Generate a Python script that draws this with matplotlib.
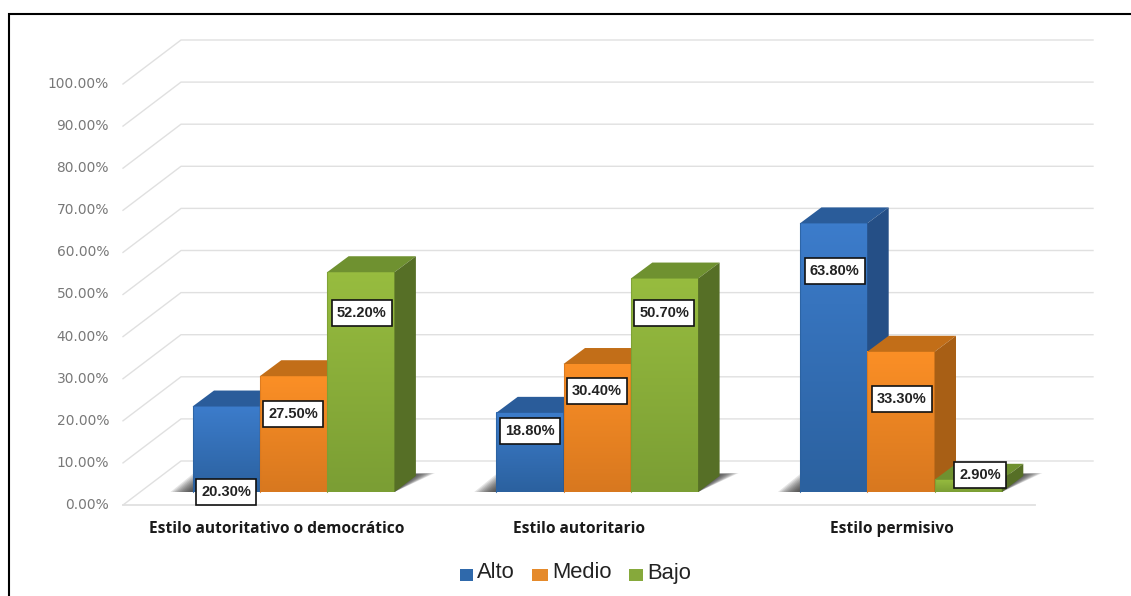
import numpy as np
import matplotlib
matplotlib.use("Agg")
import matplotlib.pyplot as plt
from matplotlib.patches import Polygon, Rectangle

#DATA
categories = ["Estilo autoritativo o democrático", "Estilo autoritario", "Estilo permisivo"]
series_names = ["Alto", "Medio", "Bajo"]
alto = [20.3, 18.8, 63.8]
medio = [27.5, 30.4, 33.3]
bajo = [52.2, 50.7, 2.9]
y_ticks = [0, 10, 20, 30, 40, 50, 60, 70, 80, 90, 100]

#LAYOUT (pixels of the 1131x596 picture)
W, H = 1131, 596
PX_PER_PCT = 4.21
Y0_PX = 505        # front floor line
X0_PX = 192.5      # left edge of the first bar
BAR_W = 67.3
GROUP_STEP = 303.7
DX, DY = 21.5, 16  # bar depth
BACK_DX, BACK_DY = 58, 44  # wall depth
BASE_LIFT = 13     # bars stand behind the front floor line

# label centres: pixel offset from the bar centre, height in percent
label_dx = [[0, 0, 1], [0, 0, 0], [1, 1, 12]]
label_pct = [[3.2, 21.7, 45.6], [17.6, 27.1, 45.6], [55.7, 25.2, 7.2]]
cat_dx = [-17, -18, -9]

#legend squares and text
leg_x = [460, 532, 629]
leg_w = [13, 16, 14]

#COLOURS (top of front, bottom of front, cap, side)
palette = [("#3c7ccb", "#2b619f", "#2a5c9a", "#254f86"),
           ("#fb8f26", "#d8781f", "#c26e18", "#a85f15"),
           ("#97bc3f", "#7b9e34", "#6f9130", "#566f26")]
leg_col = ["#2f69ab", "#e58a2b", "#86a93b"]


def py(v):
    """pixel length to value units"""
    return v / PX_PER_PCT


fig = plt.figure(figsize=(W / 100, H / 100), dpi=100, facecolor="white")
ax = fig.add_axes([0, 0, 1, 1])
ax.set_xlim(0, W)
ax.set_ylim((Y0_PX - H) / PX_PER_PCT, Y0_PX / PX_PER_PCT)
ax.axis("off")

#frame, only left and top are in the picture
frame_top = py(Y0_PX - 13.5)
ax.plot([8.5, 8.5, W + 5], [py(Y0_PX - H - 5), frame_top, frame_top],
        color="black", lw=1.5, solid_joinstyle="miter", zorder=6)

#walls grid
grid_col = "#e0e0e0"
for t in y_ticks:
    ax.plot([123, 123 + BACK_DX, 1093], [t, t + py(BACK_DY), t + py(BACK_DY)], color=grid_col, lw=1.0, zorder=1)
    ax.text(109, t, "%.2f%%" % t, ha="right", va="center", fontsize=9.9, color="#787878", family="DejaVu Sans")
ax.plot([123, 1035], [0, 0], color=grid_col, lw=1.3, zorder=1)

series = [alto, medio, bajo]
grad = np.linspace(0, 1, 64).reshape(-1, 1)
base = py(BASE_LIFT)

for g in range(len(categories)):
    left = X0_PX + g * GROUP_STEP
    right = left + 3 * BAR_W

    #soft shadow on the floor
    for k in range(14):
        s = k * 1.9
        back = base + py(DY + 3 - k * 0.15)
        ax.add_patch(Polygon([(left - 22 + s, base), (right, base), (right + DX + 19 - s, back),
                              (left + DX - 20 + s, back)],
                             closed=True, fc="#282828", ec="none", alpha=0.12, zorder=2))

    for i, vals in enumerate(series):
        v = vals[g]
        x = left + i * BAR_W
        top_c, bot_c, cap_c, side_c = palette[i]
        z = 3 + i * 0.1 + (0.5 if g == 2 and i == 2 else 0)
        top = base + v

        cmap = matplotlib.colors.LinearSegmentedColormap.from_list("f", [top_c, bot_c])
        ax.imshow(grad, extent=(x, x + BAR_W, base, top), aspect="auto", cmap=cmap, origin="upper",
                  zorder=z, interpolation="bilinear")
        ax.add_patch(Polygon([(x, top), (x + BAR_W, top), (x + BAR_W + DX, top + py(DY)), (x + DX, top + py(DY))],
                             closed=True, fc=cap_c, ec="none", zorder=z))
        ax.add_patch(Polygon([(x + BAR_W, base), (x + BAR_W + DX, base + py(DY)), (x + BAR_W + DX, top + py(DY)),
                              (x + BAR_W, top)], closed=True, fc=side_c, ec="none", zorder=z))
        #thin darker line between neighbouring bars
        ax.plot([x, x], [base, top], color=bot_c, lw=0.8, alpha=0.8, zorder=z + 0.01)

#value labels on top of all bars
for g in range(len(categories)):
    left = X0_PX + g * GROUP_STEP
    for i, vals in enumerate(series):
        cx = left + (i + 0.5) * BAR_W + label_dx[g][i]
        txt = "%.2f%%" % vals[g]
        box_w = 60 if len(txt) == 6 else 52
        ax.add_patch(Rectangle((cx - box_w / 2, label_pct[g][i] - py(13)), box_w, py(26),
                               fc="white", ec="#111111", lw=1.2, zorder=5))
        ax.text(cx, label_pct[g][i], txt, ha="center", va="center", fontsize=10.5,
                family="Liberation Sans", fontweight="bold", color="#222222", zorder=5.1)

    ax.text(left + 1.5 * BAR_W + cat_dx[g], py(-24), categories[g], ha="center", va="center", fontsize=11.2,
            family="Open Sans", fontweight="bold", color="#1a1a1a")

#legend
for i, name in enumerate(series_names):
    ax.add_patch(Rectangle((leg_x[i], py(-76)), leg_w[i], py(12), fc=leg_col[i], ec="none", zorder=4))
    ax.text(leg_x[i] + leg_w[i] + 4, py(-68), name, ha="left", va="center", fontsize=15.8,
            family="Liberation Sans", color="#222222")

fig.savefig("out.png", dpi=100)
